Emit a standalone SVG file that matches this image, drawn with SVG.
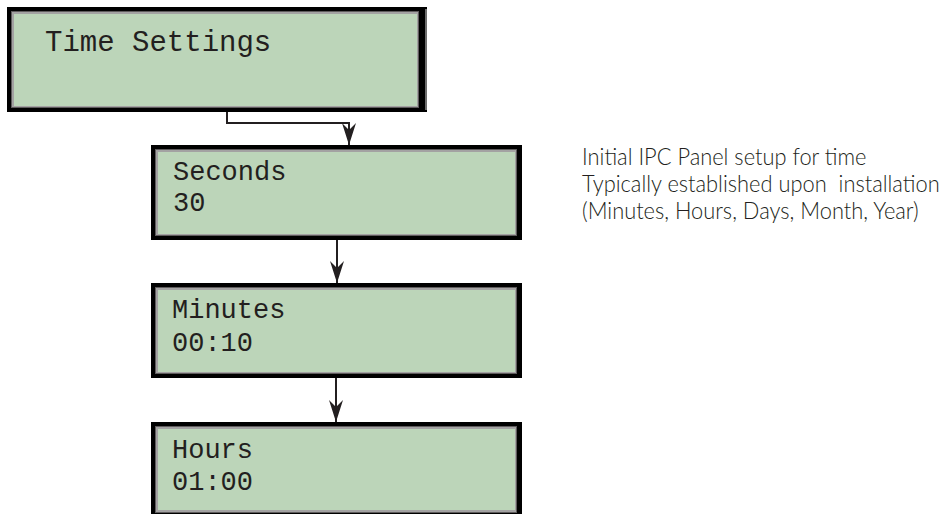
<svg xmlns="http://www.w3.org/2000/svg" width="949" height="514" viewBox="0 0 949 514">
  <style>
    .frame { fill: #000000; }
    .bevel1 { fill: #5e5b5c; }
    .bevel2 { fill: #a3a2a2; }
    .face { fill: #bcd5b9; }
    .lcd { font-family: "Liberation Mono", "DejaVu Sans Mono", monospace; fill: #231f20; }
    .note { font-family: Lato, "Open Sans", "Liberation Sans", sans-serif; font-weight: 300; font-size: 24px; fill: #231f20; }
    .wire { fill: none; stroke: #231f20; stroke-width: 2; }
  </style>
  <defs>
    <marker id="arrow" markerUnits="userSpaceOnUse" viewBox="-23 -8 24 16" refX="0" refY="0" markerWidth="24" markerHeight="16" orient="auto">
      <path d="M0,0 L-22,-7 L-15,0 L-22,7 Z" fill="#231f20"/>
    </marker>
  </defs>

  <rect width="949" height="514" fill="#ffffff"/>

  <!-- Time Settings panel -->
  <g id="time-settings">
    <rect class="frame" x="7" y="7" width="420" height="105"/>
    <rect class="bevel1" x="11" y="11" width="408" height="97"/>
    <rect class="bevel2" x="12" y="12" width="406" height="95"/>
    <rect class="face" x="14" y="14" width="403" height="92"/>
    <line x1="426" y1="9" x2="426" y2="110" stroke="#d9d9d9" stroke-width="1"/>
    <text class="lcd" x="45" y="51" font-size="29">Time Settings</text>
  </g>

  <!-- Seconds panel -->
  <g id="seconds">
    <rect class="frame" x="151" y="145" width="371" height="95"/>
    <rect class="bevel1" x="155" y="149" width="362" height="87"/>
    <rect class="bevel2" x="156" y="150" width="360" height="85"/>
    <rect class="face" x="158" y="152" width="357" height="82"/>
    <text class="lcd" x="173" y="180" font-size="27">Seconds</text>
    <text class="lcd" x="173" y="211" font-size="27">30</text>
  </g>

  <!-- Minutes panel -->
  <g id="minutes">
    <rect class="frame" x="151" y="283" width="371" height="95"/>
    <rect class="bevel1" x="155" y="287" width="362" height="87"/>
    <rect class="bevel2" x="156" y="288" width="360" height="85"/>
    <rect class="face" x="158" y="290" width="357" height="82"/>
    <text class="lcd" x="172" y="318" font-size="27">Minutes</text>
    <text class="lcd" x="172" y="351" font-size="27">00:10</text>
  </g>

  <!-- Hours panel -->
  <g id="hours">
    <rect class="frame" x="151" y="422" width="371" height="95"/>
    <rect class="bevel1" x="155" y="426" width="362" height="87"/>
    <rect class="bevel2" x="156" y="427" width="360" height="85"/>
    <rect class="face" x="158" y="429" width="357" height="81"/>
    <text class="lcd" x="172" y="458" font-size="27">Hours</text>
    <text class="lcd" x="172" y="490" font-size="27">01:00</text>
  </g>

  <!-- Connectors -->
  <g id="connectors">
    <path class="wire" d="M227,112 V123 H349 V145" marker-end="url(#arrow)"/>
    <path class="wire" d="M337,240 V283" marker-end="url(#arrow)"/>
    <path class="wire" d="M336,378 V422" marker-end="url(#arrow)"/>
  </g>

  <!-- Side note, set in a horizontally condensed light face -->
  <g id="note" transform="translate(582,0) scale(0.91,1)">
    <text class="note" x="0" y="165">Initial IPC Panel setup for time</text>
    <text class="note" x="0" y="192" xml:space="preserve">Typically established upon  installation</text>
    <text class="note" x="0" y="219">(Minutes, Hours, Days, Month, Year)</text>
  </g>
</svg>
